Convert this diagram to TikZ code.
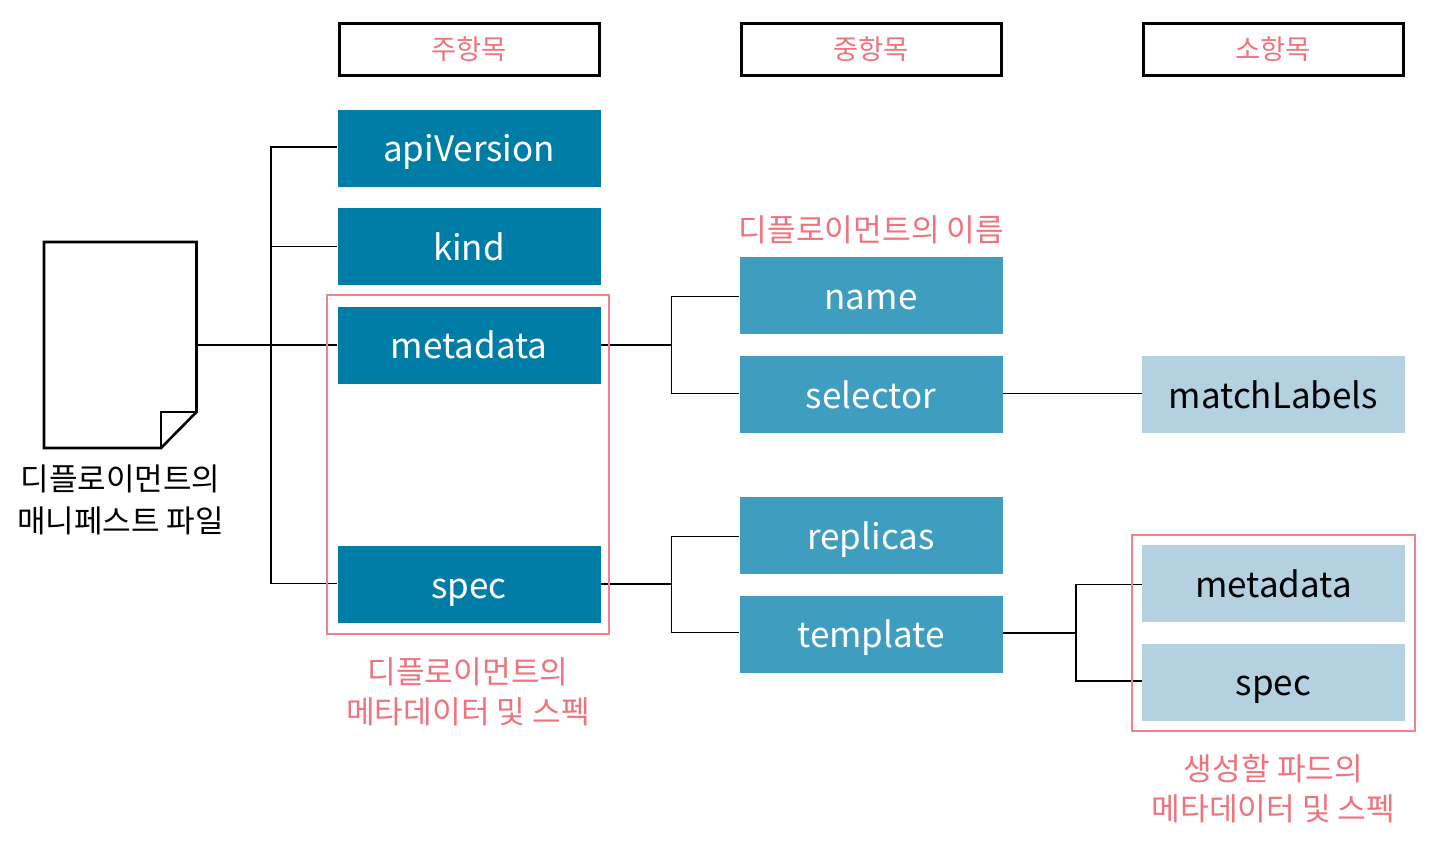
\documentclass[tikz,border=0pt]{standalone}
\usepackage{fontspec}
\setmainfont{Noto Sans CJK KR}
\definecolor{dk}{HTML}{007DA7}
\definecolor{md}{HTML}{3F9DBF}
\definecolor{lt}{HTML}{B3D1E1}
\definecolor{pk}{HTML}{F0727D}
\definecolor{pkline}{HTML}{F2818B}
\tikzset{x=0.5pt,y=-0.5pt,
 box/.style={minimum width=131.5pt,minimum height=38.5pt,inner sep=0pt,text height=16pt,text depth=2.5pt,text=white,font=\fontsize{17.5}{20}\selectfont},
 dkbox/.style={box,fill=dk},
 mdbox/.style={box,fill=md},
 ltbox/.style={box,fill=lt,text=black},
 head/.style={draw=black,line width=1.5pt,fill=white,minimum width=130pt,minimum height=26pt,inner sep=0pt,text=pk,font=\fontsize{13.7}{16}\selectfont},
 pinklabel/.style={text=pk,font=\fontsize{15.6}{20}\selectfont,align=center,inner sep=0pt},
 conn/.style={draw=black,line width=0.8pt},
 pinkframe/.style={draw=pkline,line width=0.8pt}}
\begin{document}
\begin{tikzpicture}
\useasboundingbox (0,0) rectangle (1430,846);
\fill[white] (0,0) rectangle (1430,846);
% headers
\node[head] (h1) at (469,49) {주항목};
\node[head] (h2) at (871,49) {중항목};
\node[head] (h3) at (1273,49) {소항목};
% hub coordinates
\coordinate (v1) at (271,345);
\coordinate (v2) at (671.5,345);
\coordinate (v3) at (671.5,584);
\coordinate (v4) at (1076,633);
% boxes
\node[dkbox] (api) at (469,148) {apiVersion};
\node[dkbox] (kind) at (469,246.5) {kind};
\node[dkbox] (meta) at (469,345) {metadata};
\node[dkbox] (spec) at (469,584.5) {spec};
\node[mdbox] (name) at (871,295.5) {name};
\node[mdbox] (sel) at (871,394.5) {selector};
\node[mdbox] (rep) at (871,535.5) {replicas};
\node[mdbox] (tmpl) at (871,634) {template};
\node[ltbox] (ml) at (1273.5,394.5) {matchLabels};
\node[ltbox] (m2) at (1273.5,583.5) {metadata};
\node[ltbox] (s2) at (1273.5,682) {spec};
% document
\coordinate (doc) at (197,345);
\draw[draw=black,line width=1.3pt,fill=white] (44,242) -- (196.5,242) -- (196.5,412) -- (161,448) -- (44,448) -- cycle;
\draw[draw=black,line width=1.3pt] (196.5,412) -- (161,412) -- (161,448);
\node[font=\fontsize{15.5}{21}\selectfont,align=center,inner sep=0pt] (doclabel) at (120.5,500) {디플로이먼트의\\매니페스트 파일};
% connectors
\draw[conn] (doc) -- (meta.west);
\draw[conn] ([yshift=0.5pt]api.west) -| (v1) |- ([yshift=0.5pt]spec.west);
\draw[conn] (kind.west) -- (kind.west -| v1);
\draw[conn] (meta.east) -- (v2);
\draw[conn] ([yshift=-0.5pt]name.west) -| (v2) |- ([yshift=0.5pt]sel.west);
\draw[conn] ([yshift=0.25pt]spec.east) -- (v3);
\draw[conn] ([yshift=-0.5pt]rep.west) -| (v3) |- ([yshift=0.75pt]tmpl.west);
\draw[conn] ([yshift=0.5pt]sel.east) -- ([yshift=0.5pt]ml.west);
\draw[conn] ([yshift=0.5pt]tmpl.east) -- (v4);
\draw[conn] ([yshift=-0.5pt]m2.west) -| (v4) |- ([yshift=0.5pt]s2.west);
% frames
\draw[pinkframe] (327,295) rectangle (609,634);
\draw[pinkframe] (1132,535) rectangle (1415,731);
% labels
\node[pinklabel] (l1) at (871.5,229.5) {디플로이먼트의 이름};
\node[pinklabel] (l2) at (468,691.5) {디플로이먼트의\\메타데이터 및 스펙};
\node[pinklabel] (l3) at (1273.5,788.5) {생성할 파드의\\메타데이터 및 스펙};
\end{tikzpicture}
\end{document}
